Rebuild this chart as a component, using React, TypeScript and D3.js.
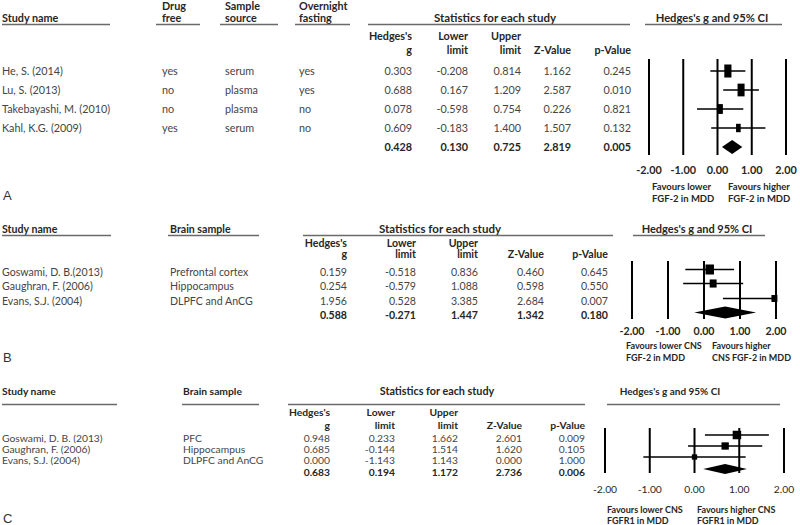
import React from "react";
import * as d3 from "d3";

// ---------- DATA ----------
const ticks = [-2, -1, 0, 1, 2];

// Panel A
const studiesA = ["He, S. (2014)", "Lu, S. (2013)", "Takebayashi, M. (2010)", "Kahl, K.G. (2009)"];
const drugFreeA = ["yes", "no", "no", "yes"];
const sampleSourceA = ["serum", "plasma", "plasma", "serum"];
const fastingA = ["yes", "yes", "no", "no"];
const hedgesA = [0.303, 0.688, 0.078, 0.609];
const lowerA = [-0.208, 0.167, -0.598, -0.183];
const upperA = [0.814, 1.209, 0.754, 1.4];
const zA = [1.162, 2.587, 0.226, 1.507];
const pA = [0.245, 0.01, 0.821, 0.132];
const summaryA = [0.428, 0.13, 0.725, 2.819, 0.005];

// Panel B
const studiesB = ["Goswami, D. B.(2013)", "Gaughran, F. (2006)", "Evans, S.J. (2004)"];
const brainSampleB = ["Prefrontal cortex", "Hippocampus", "DLPFC and AnCG"];
const hedgesB = [0.159, 0.254, 1.956];
const lowerB = [-0.518, -0.579, 0.528];
const upperB = [0.836, 1.088, 3.385];
const zB = [0.46, 0.598, 2.684];
const pB = [0.645, 0.55, 0.007];
const summaryB = [0.588, -0.271, 1.447, 1.342, 0.18];

// Panel C
const studiesC = ["Goswami, D. B. (2013)", "Gaughran, F. (2006)", "Evans, S.J. (2004)"];
const brainSampleC = ["PFC", "Hippocampus", "DLPFC and AnCG"];
const hedgesC = [0.948, 0.685, 0.0];
const lowerC = [0.233, -0.144, -1.143];
const upperC = [1.662, 1.514, 1.143];
const zC = [2.601, 1.62, 0.0];
const pC = [0.009, 0.105, 1.0];
const summaryC = [0.683, 0.194, 1.172, 2.736, 0.006];

// ---------- DRAWING ----------
const FONT = "Lato, 'Noto Sans', sans-serif";
const TXT = "#454545";
const DARK = "#262626";
const RULE = "#6a6a6a";

const fmt = (v: number) => v.toFixed(3);

type ExtraCol = { head: string[]; x: number; ul: [number, number]; values: string[] };

type Layout = {
  fs: number;
  titleFs: number;
  ciTitleFs: number;
  favFs: number;
  studyHeadY: number;
  headLine1Y: number;
  underlineY: number;
  colHead1Y: number;
  colHead2Y: number;
  rowYs: number[]; // centers; last is summary
  markerDy: number;
  studyUl: [number, number];
  extra: ExtraCol[];
  statsTitleX: number;
  statsUl: [number, number];
  numRight: number[];
  ciTitleX: number;
  ciUl: [number, number];
  plotX: [number, number];
  plotY: [number, number];
  tickY: number;
  tickWeight: number;
  favY: [number, number];
  favX: [number, number];
  favText: [string[], string[]];
  letter: string;
  letterY: number;
  boxMax: number;
  boxMin: number;
  boxAspect: number;
  diamondH: number;
};

function Panel({
  L,
  studies,
  g,
  lo,
  hi,
  z,
  p,
  summary,
}: {
  L: Layout;
  studies: string[];
  g: number[];
  lo: number[];
  hi: number[];
  z: number[];
  p: number[];
  summary: number[];
}) {
  const x = d3.scaleLinear().domain([-2, 2]).range(L.plotX);
  const base = (c: number) => c + L.fs * 0.36;
  const weights = lo.map((l, i) => 1 / Math.pow((hi[i] - l) / 3.92, 2));
  const wmax = d3.max(weights) as number;
  const n = studies.length;
  const sumY = L.rowYs[n];
  const heads2 = [
    ["Hedges's", "g"],
    ["Lower", "limit"],
    ["Upper", "limit"],
    ["", "Z-Value"],
    ["", "p-Value"],
  ];
  return (
    <g fontFamily={FONT} fontSize={L.fs}>
      {/* header: study name */}
      <text x={2} y={L.studyHeadY} fill={DARK} fontWeight={700}>
        Study name
      </text>
      <line x1={L.studyUl[0]} x2={L.studyUl[1]} y1={L.underlineY} y2={L.underlineY} stroke={RULE} strokeWidth={1.3} />
      {L.extra.map((c, ci) => (
        <g key={ci}>
          {c.head.map((h, hi2) => (
            <text
              key={hi2}
              x={c.x}
              y={c.head.length === 2 ? (hi2 === 0 ? L.headLine1Y : L.studyHeadY) : L.studyHeadY}
              fill={DARK}
              fontWeight={700}
            >
              {h}
            </text>
          ))}
          <line x1={c.ul[0]} x2={c.ul[1]} y1={L.underlineY} y2={L.underlineY} stroke={RULE} strokeWidth={1.3} />
          {c.values.map((v, i) => (
            <text key={i} x={c.x} y={base(L.rowYs[i])} fill={TXT}>
              {v}
            </text>
          ))}
        </g>
      ))}
      {/* Stats header */}
      <text x={L.statsTitleX} y={L.studyHeadY} fill={DARK} fontWeight={700} textAnchor="middle" fontSize={L.titleFs}>
        Statistics for each study
      </text>
      <line x1={L.statsUl[0]} x2={L.statsUl[1]} y1={L.underlineY} y2={L.underlineY} stroke={RULE} strokeWidth={1.3} />
      <text x={L.ciTitleX} y={L.studyHeadY} fill={DARK} fontWeight={700} textAnchor="middle" fontSize={L.ciTitleFs}>
        Hedges's g and 95% CI
      </text>
      <line x1={L.ciUl[0]} x2={L.ciUl[1]} y1={L.underlineY} y2={L.underlineY} stroke={RULE} strokeWidth={1.3} />
      {heads2.map((h, i) => (
        <g key={i} fontWeight={700} fill={DARK} textAnchor="end">
          {h[0] && (
            <text x={L.numRight[i]} y={L.colHead1Y}>
              {h[0]}
            </text>
          )}
          <text x={L.numRight[i]} y={L.colHead2Y}>
            {h[1]}
          </text>
        </g>
      ))}
      {/* study rows */}
      {studies.map((s, i) => (
        <g key={i}>
          <text x={2} y={base(L.rowYs[i])} fill={TXT}>
            {s}
          </text>
          {[g[i], lo[i], hi[i], z[i], p[i]].map((v, j) => (
            <text key={j} x={L.numRight[j]} y={base(L.rowYs[i])} fill={TXT} textAnchor="end">
              {fmt(v)}
            </text>
          ))}
        </g>
      ))}
      {summary.map((v, j) => (
        <text key={j} x={L.numRight[j]} y={base(sumY)} fill={DARK} fontWeight={700} textAnchor="end">
          {fmt(v)}
        </text>
      ))}
      {/* plot */}
      {ticks.map((t) => (
        <g key={t}>
          <line x1={x(t)} x2={x(t)} y1={L.plotY[0]} y2={L.plotY[1]} stroke="#000" strokeWidth={2} />
          <text x={x(t)} y={L.tickY} textAnchor="middle" fill={DARK} fontWeight={L.tickWeight}>
            {t.toFixed(2)}
          </text>
        </g>
      ))}
      {studies.map((s, i) => {
        const cy = L.rowYs[i] + L.markerDy;
        const h = Math.max(L.boxMin, L.boxMax * Math.sqrt(weights[i] / wmax));
        const w = h * L.boxAspect;
        return (
          <g key={i}>
            <line
              x1={x(Math.max(-2.05, lo[i]))}
              x2={x(Math.min(2.0, hi[i]))}
              y1={cy}
              y2={cy}
              stroke="#000"
              strokeWidth={1.4}
            />
            <rect x={x(g[i]) - w / 2} y={cy - h / 2} width={w} height={h} fill="#000" />
          </g>
        );
      })}
      {(() => {
        const cy = sumY + L.markerDy;
        const hh = L.diamondH / 2;
        const pts = [
          [x(summary[1]), cy],
          [x(summary[0]), cy - hh],
          [x(summary[2]), cy],
          [x(summary[0]), cy + hh],
        ];
        return <polygon points={pts.map((q) => q.join(",")).join(" ")} fill="#000" />;
      })()}
      {L.favText.map((lines, k) =>
        lines.map((t, li) => (
          <text key={k + "-" + li} x={L.favX[k]} y={L.favY[li]} fill={DARK} fontWeight={700} fontSize={L.favFs}>
            {t}
          </text>
        ))
      )}
      <text x={3} y={L.letterY} fontFamily="'Liberation Sans', Arial, sans-serif" fontSize={13} fill="#333">
        {L.letter}
      </text>
    </g>
  );
}

const layoutA: Layout = {
  fs: 10.8,
  titleFs: 11.5,
  ciTitleFs: 11.2,
  favFs: 9.5,
  studyHeadY: 21.5,
  headLine1Y: 9.5,
  underlineY: 24.5,
  colHead1Y: 40,
  colHead2Y: 53.5,
  rowYs: [71, 90, 109, 128, 147],
  markerDy: 0,
  studyUl: [2, 110],
  extra: [
    { head: ["Drug", "free"], x: 162, ul: [156, 200], values: drugFreeA },
    { head: ["Sample", "source"], x: 225, ul: [220, 278], values: sampleSourceA },
    { head: ["Overnight", "fasting"], x: 299, ul: [295, 350], values: fastingA },
  ],
  statsTitleX: 495,
  statsUl: [368, 630],
  numRight: [412, 468, 521, 571, 631],
  ciTitleX: 712,
  ciUl: [645, 782],
  plotX: [649, 786],
  plotY: [59, 155],
  tickY: 173.5,
  tickWeight: 700,
  favY: [189.5, 201.5],
  favX: [652, 728],
  favText: [
    ["Favours lower", "FGF-2 in MDD"],
    ["Favours higher", "FGF-2 in MDD"],
  ],
  letter: "A",
  letterY: 200,
  boxMax: 13,
  boxMin: 0,
  boxAspect: 0.55,
  diamondH: 14,
};

const layoutB: Layout = {
  fs: 10.6,
  titleFs: 11.5,
  ciTitleFs: 11,
  favFs: 9,
  studyHeadY: 233,
  headLine1Y: 233,
  underlineY: 235.5,
  colHead1Y: 246.5,
  colHead2Y: 258,
  rowYs: [272, 286, 301, 315],
  markerDy: -2.5,
  studyUl: [2, 111],
  extra: [{ head: ["Brain sample"], x: 170, ul: [168, 259], values: brainSampleB }],
  statsTitleX: 440,
  statsUl: [303, 613],
  numRight: [347, 416, 478, 544, 608],
  ciTitleX: 697,
  ciUl: [633, 765],
  plotX: [632, 776],
  plotY: [261, 319],
  tickY: 334.5,
  tickWeight: 700,
  favY: [348.5, 361],
  favX: [626, 712],
  favText: [
    ["Favours lower CNS", "FGF-2 in MDD"],
    ["Favours higher", "CNS FGF-2 in MDD"],
  ],
  letter: "B",
  letterY: 362,
  boxMax: 10,
  boxMin: 7,
  boxAspect: 0.85,
  diamondH: 12,
};

const layoutC: Layout = {
  fs: 10.3,
  titleFs: 10.8,
  ciTitleFs: 10,
  favFs: 9,
  studyHeadY: 395,
  headLine1Y: 395,
  underlineY: 404.5,
  colHead1Y: 415.5,
  colHead2Y: 429,
  rowYs: [438, 449, 460, 472],
  markerDy: -3,
  studyUl: [2, 117],
  extra: [{ head: ["Brain sample"], x: 183, ul: [182, 259], values: brainSampleC }],
  statsTitleX: 437,
  statsUl: [288, 585],
  numRight: [330, 395, 458, 522, 585],
  ciTitleX: 670,
  ciUl: [607, 780],
  plotX: [605, 784],
  plotY: [428, 473],
  tickY: 492.5,
  tickWeight: 400,
  favY: [513, 524],
  favX: [607, 697],
  favText: [
    ["Favours lower CNS", "FGFR1 in MDD"],
    ["Favours higher CNS", "FGFR1 in MDD"],
  ],
  letter: "C",
  letterY: 523,
  boxMax: 8.5,
  boxMin: 0,
  boxAspect: 1,
  diamondH: 10,
};

export default function App() {
  return (
    <svg
      width={800}
      height={525}
      style={{ position: "absolute", left: 0, top: 0, background: "#fff" }}
    >
      <rect width={800} height={525} fill="#fff" />
      <Panel L={layoutA} studies={studiesA} g={hedgesA} lo={lowerA} hi={upperA} z={zA} p={pA} summary={summaryA} />
      <Panel L={layoutB} studies={studiesB} g={hedgesB} lo={lowerB} hi={upperB} z={zB} p={pB} summary={summaryB} />
      <Panel L={layoutC} studies={studiesC} g={hedgesC} lo={lowerC} hi={upperC} z={zC} p={pC} summary={summaryC} />
    </svg>
  );
}
